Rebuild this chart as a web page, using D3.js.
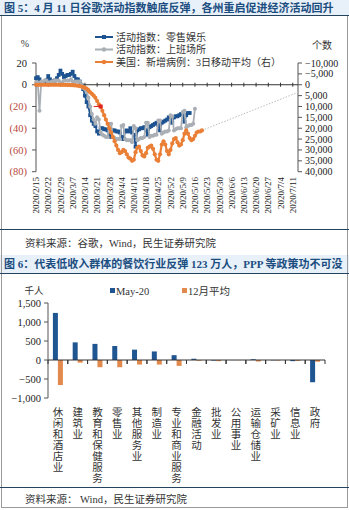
<!DOCTYPE html>
<html><head><meta charset="utf-8">
<script src="https://cdn.jsdelivr.net/npm/d3@7"></script>
<style>
html,body{margin:0;padding:0;background:#fff;}
svg{display:block;}
text{font-family:"Liberation Serif","Noto Sans CJK SC",serif;}
</style></head><body>
<svg id="c" width="349" height="510"></svg>
<script>
// ---------------- DATA ----------------
const title5 = "图 5：4 月 11 日谷歌活动指数触底反弹，各州重启促进经济活动回升";
const source5 = "资料来源：谷歌，Wind，民生证券研究院";
const title6 = "图 6：代表低收入群体的餐饮行业反弹 123 万人，PPP 等政策功不可没";
const source6 = "资料来源：  Wind，民生证券研究院";

const startDate = "2020-02-15";   // first daily observation
const endDate = "2020-07-14";     // end of x domain
const seriesNames = ["活动指数：零售娱乐", "活动指数：上班场所", "美国：新增病例：3日移动平均（右）"];
// Google mobility: retail & recreation (%), daily from 2020-02-15
const retail = [6,7,5,1,2,2,4,8,5,3,3,4,6,9,13,10,7,8,9,9,10,12,8,5,5,3,0,-4,-10,-16,
  -20,-28,-33,-36,-38,-43,-45,-40,-40,-41,-41,-42,-46,-48,-42,-42,-43,-43,-44,-48,
  -50,-43,-42,-43,-40,-44,-46,-57,-42,-41,-40,-40,-39,-42,-46,-39,-38,-37,-36,-35,
  -37,-42,-35,-34,-33,-32,-30,-30,-35,-30,-29,-29,-28,-27,-27,-34,-28,-26,-26];
// Google mobility: workplaces (%), daily from 2020-02-15
const workplace = [2,2,-24,3,3,4,4,2,2,3,3,4,4,4,2,2,4,4,4,4,5,3,2,3,3,3,0,-3,-4,-6,
  -12,-20,-27,-32,-36,-30,-32,-44,-46,-47,-48,-48,-36,-36,-48,-49,-50,-50,-50,-38,
  -37,-50,-51,-51,-51,-53,-38,-40,-51,-50,-49,-49,-48,-35,-35,-48,-47,-47,-46,-46,
  -33,-33,-45,-44,-43,-43,-42,-28,-29,-42,-41,-40,-40,-40,-25,-24,-39,-38,-37,-37,-36,-22];
// US new cases, 3-day moving average (right axis, inverted), daily from 2020-02-15
const newCases = [0,0,0,0,0,0,0,0,0,0,5,10,10,15,20,30,40,60,80,100,150,200,250,350,450,
  600,800,1100,1400,1800,2500,3500,4200,5000,6000,7500,9000,10000,12000,14000,16000,
  18000,20000,22000,24000,26000,28000,30000,31500,31000,30000,30500,32000,33500,34000,
  35000,34500,31000,29000,28500,30500,32500,33000,31500,29000,28500,28000,29500,32000,
  34500,35000,32000,27500,26000,27500,30500,32000,30000,27000,25000,24500,26500,28000,
  27500,25500,22500,21000,22500,24500,25500,25000,23500,22000,21500,21500,21000];
const calloutDate = "2020-03-23";
const trendDates = ["2020-05-20", "2020-07-14"];
const trendValues = [21000, 3500];
const leftTicks = [20, 0, -20, -40, -60, -80];
const leftTickText = ["20", "0", "(20)", "(40)", "(60)", "(80)"];
const rightTicks = [-10000, -5000, 0, 5000, 10000, 15000, 20000, 25000, 30000, 35000, 40000];
const xTickLabels = ["2020/2/15","2020/2/22","2020/2/29","2020/3/7","2020/3/14","2020/3/21",
  "2020/3/28","2020/4/4","2020/4/11","2020/4/18","2020/4/25","2020/5/2","2020/5/9","2020/5/16",
  "2020/5/23","2020/5/30","2020/6/6","2020/6/13","2020/6/20","2020/6/27","2020/7/4","2020/7/11"];

const industries = ["休闲和酒店业","建筑业","教育和保健服务","零售业","其他服务业","制造业",
  "专业和商业服务","金融活动","批发业","公用事业","运输仓储业","采矿业","信息业","政府"];
const barSeries = ["May-20", "12月平均"];
const may20 = [1239, 464, 424, 368, 272, 225, 127, 33, -15, -2, 20, -8, -30, -585];
const avg12 = [-660, -70, -190, -190, -120, -120, -155, -20, -30, -5, -40, -15, -25, -45];
const barTicks = [1500, 1000, 500, 0, -500, -1000];

// ---------------- STYLE ----------------
const C = {blue:"#1d5390", gray:"#a9afb5", orange:"#ea7f36", red:"#b8473a",
  title:"#1b4d80", band:"#e8f1f9", rule:"#23435f", frame:"#9a9a9a", txt:"#333",
  barBlue:"#1f5591", barOrange:"#e28a4d"};

const svg = d3.select("#c");
const parse = d3.timeParse("%Y-%m-%d");
const parseLbl = d3.timeParse("%Y/%m/%d");
const t0 = parse(startDate);

// frame + bands
svg.append("rect").attr("x",0).attr("y",0).attr("width",349).attr("height",15).attr("fill",C.band);
svg.append("rect").attr("x",0).attr("y",255).attr("width",349).attr("height",18).attr("fill",C.band);
[[1.5,15,1.5,508],[347.5,15,347.5,508]].forEach(l=>svg.append("line")
  .attr("x1",l[0]).attr("y1",l[1]).attr("x2",l[2]).attr("y2",l[3]).attr("stroke",C.frame).attr("stroke-width",1));
[15,229,273,487].forEach(y=>svg.append("line").attr("x1",0).attr("x2",349).attr("y1",y+0.5).attr("y2",y+0.5)
  .attr("stroke",C.rule).attr("stroke-width",1.2));
svg.append("line").attr("x1",1).attr("x2",348).attr("y1",507.5).attr("y2",507.5).attr("stroke",C.frame);

svg.append("text").attr("x",4).attr("y",11.5).attr("font-size",11).attr("font-weight","bold")
  .attr("fill",C.title).text(title5);
svg.append("text").attr("x",4).attr("y",268).attr("font-size",11).attr("font-weight","bold")
  .attr("fill",C.title).text(title6);
svg.append("text").attr("x",25).attr("y",247).attr("font-size",10.5).attr("fill",C.txt).text(source5);
svg.append("text").attr("x",25).attr("y",503).attr("font-size",10.5).attr("fill",C.txt).text(source6);

// ---------------- FIGURE 5 ----------------
const x = d3.scaleTime().domain([t0, parse(endDate)]).range([36, 298]);
const yL = d3.scaleLinear().domain([20, -80]).range([63, 171.7]);
const yR = d3.scaleLinear().domain([-10000, 40000]).range([63, 171.7]);
const g5 = svg.append("g");

// left axis
g5.append("line").attr("x1",36).attr("x2",36).attr("y1",yL(20)).attr("y2",yL(-80)).attr("stroke","#555");
leftTicks.forEach((v,i)=>{
  g5.append("line").attr("x1",32).attr("x2",36).attr("y1",yL(v)).attr("y2",yL(v)).attr("stroke","#555");
  g5.append("text").attr("x",27).attr("y",yL(v)).attr("dy","0.35em").attr("text-anchor","end")
    .attr("font-size",10.5).attr("fill", v < 0 ? C.red : "#222").text(leftTickText[i]);
});
// right axis
g5.append("line").attr("x1",298).attr("x2",298).attr("y1",yR(-10000)).attr("y2",yR(40000)).attr("stroke","#555");
rightTicks.forEach(v=>{
  g5.append("line").attr("x1",298).attr("x2",302).attr("y1",yR(v)).attr("y2",yR(v)).attr("stroke","#555");
  g5.append("text").attr("x",305).attr("y",yR(v)).attr("dy","0.35em").attr("font-size",10)
    .attr("fill","#222").text(d3.format(",")(v));
});
g5.append("text").attr("x",25).attr("y",47).attr("text-anchor","middle").attr("font-size",10).attr("fill",C.txt).text("%");
g5.append("text").attr("x",322).attr("y",49).attr("text-anchor","middle").attr("font-size",10).attr("fill",C.txt).text("个数");

// x axis (at zero)
g5.append("line").attr("x1",36).attr("x2",298).attr("y1",yL(0)).attr("y2",yL(0)).attr("stroke","#333");
xTickLabels.forEach(s=>{
  const xx = x(parseLbl(s));
  g5.append("line").attr("x1",xx).attr("x2",xx).attr("y1",yL(0)-2).attr("y2",yL(0)+2).attr("stroke","#333");
  g5.append("text").attr("transform",`translate(${xx},177) rotate(-90)`).attr("dy","0.35em")
    .attr("text-anchor","end").attr("font-size",9).attr("fill","#222").text(s);
});

const pts = arr => arr.map((v,i)=>({date:d3.timeDay.offset(t0,i), v}));
const dRetail = pts(retail), dWork = pts(workplace), dCases = pts(newCases);

// trend line (dotted)
const trend = trendDates.map((d,i)=>({date:parse(d), v:trendValues[i]}));
g5.append("path").datum(trend).attr("fill","none").attr("stroke","#bdbdbd").attr("stroke-width",1)
  .attr("stroke-dasharray","1.5,1.5")
  .attr("d", d3.line().x(d=>x(d.date)).y(d=>yR(d.v)));

function drawSeries(data, yScale, color, shape, lw, ms){
  g5.append("path").datum(data).attr("fill","none").attr("stroke",color).attr("stroke-width",lw)
    .attr("stroke-linejoin","round").attr("d", d3.line().x(d=>x(d.date)).y(d=>yScale(d.v)));
  if(shape==="square"){
    g5.selectAll(null).data(data).enter().append("rect")
      .attr("x",d=>x(d.date)-ms/2).attr("y",d=>yScale(d.v)-ms/2).attr("width",ms).attr("height",ms).attr("fill",color);
  } else {
    g5.selectAll(null).data(data).enter().append("circle")
      .attr("cx",d=>x(d.date)).attr("cy",d=>yScale(d.v)).attr("r",ms/2).attr("fill",color);
  }
}
drawSeries(dRetail, yL, C.blue, "square", 1.8, 3.8);
drawSeries(dWork, yL, C.gray, "circle", 1.8, 4);
drawSeries(dCases, yR, C.orange, "circle", 2.2, 4.2);

// callout marker
const cp = dCases.find(d=>+d.date===+parse(calloutDate));
g5.append("line").attr("x1",x(cp.date)-7).attr("x2",x(cp.date)).attr("y1",yR(cp.v)).attr("y2",yR(cp.v))
  .attr("stroke","#e02424").attr("stroke-width",1);
g5.append("rect").attr("x",x(cp.date)-2).attr("y",yR(cp.v)-2).attr("width",4).attr("height",4).attr("fill","#e02424");

// legend
const legColors = [C.blue, C.gray, C.orange], legShapes = ["square","circle","circle"];
seriesNames.forEach((n,i)=>{
  const ly = 37 + i*12.5;
  g5.append("line").attr("x1",95).attr("x2",113).attr("y1",ly).attr("y2",ly).attr("stroke",legColors[i]).attr("stroke-width",2);
  if(legShapes[i]==="square") g5.append("rect").attr("x",102).attr("y",ly-2).attr("width",4).attr("height",4).attr("fill",legColors[i]);
  else g5.append("circle").attr("cx",104).attr("cy",ly).attr("r",2.2).attr("fill",legColors[i]);
  g5.append("text").attr("x",116).attr("y",ly).attr("dy","0.35em").attr("font-size",10).attr("fill",C.txt).text(n);
});

// ---------------- FIGURE 6 ----------------
const g6 = svg.append("g");
const xb = d3.scaleBand().domain(industries).range([48, 325]);
const xi = d3.scaleBand().domain(barSeries).range([0, xb.bandwidth()]).paddingInner(0).paddingOuter(0.98);
const yb = d3.scaleLinear().domain([-1000, 1500]).range([398, 303]);

g6.append("line").attr("x1",48).attr("x2",48).attr("y1",yb(1500)).attr("y2",yb(-1000)).attr("stroke","#555");
barTicks.forEach(v=>{
  g6.append("line").attr("x1",44).attr("x2",48).attr("y1",yb(v)).attr("y2",yb(v)).attr("stroke","#555");
  g6.append("text").attr("x",41).attr("y",yb(v)).attr("dy","0.35em").attr("text-anchor","end")
    .attr("font-size",10.5).attr("fill","#222").text(d3.format(",")(v));
});
g6.append("text").attr("x",34).attr("y",294).attr("text-anchor","middle").attr("font-size",9.5).attr("fill",C.txt).text("千人");

const rows = industries.map((k,i)=>({k, a:may20[i], b:avg12[i]}));
const barRect = (sel, key, val, color) => sel.append("rect")
  .attr("x", d=>xb(d.k)+xi(key)).attr("width", xi.bandwidth())
  .attr("y", d=>yb(Math.max(0,val(d)))).attr("height", d=>Math.abs(yb(val(d))-yb(0)))
  .attr("fill", color);
const gr = g6.selectAll(null).data(rows).enter().append("g");
barRect(gr, barSeries[0], d=>d.a, C.barBlue);
barRect(gr, barSeries[1], d=>d.b, C.barOrange);

// zero axis
g6.append("line").attr("x1",48).attr("x2",325).attr("y1",yb(0)).attr("y2",yb(0)).attr("stroke","#333");
industries.forEach(k=>{
  [xb(k), xb(k)+xb.bandwidth()].forEach(xx=>g6.append("line").attr("x1",xx).attr("x2",xx)
    .attr("y1",yb(0)).attr("y2",yb(0)+4).attr("stroke","#333"));
  const t = g6.append("text").attr("font-size",10.5).attr("fill",C.txt).attr("text-anchor","middle");
  Array.from(k).forEach((ch,j)=>t.append("tspan").attr("x",xb(k)+xb.bandwidth()/2).attr("y",416+j*11).text(ch));
});

// legend
barSeries.forEach((n,i)=>{
  const lx = i===0 ? 110 : 182;
  g6.append("rect").attr("x",lx).attr("y",288).attr("width",5).attr("height",5).attr("fill",i===0?C.barBlue:C.barOrange);
  g6.append("text").attr("x",lx+6).attr("y",291).attr("dy","0.35em").attr("font-size",10.5).attr("fill",C.txt).text(n);
});
</script>
</body></html>
